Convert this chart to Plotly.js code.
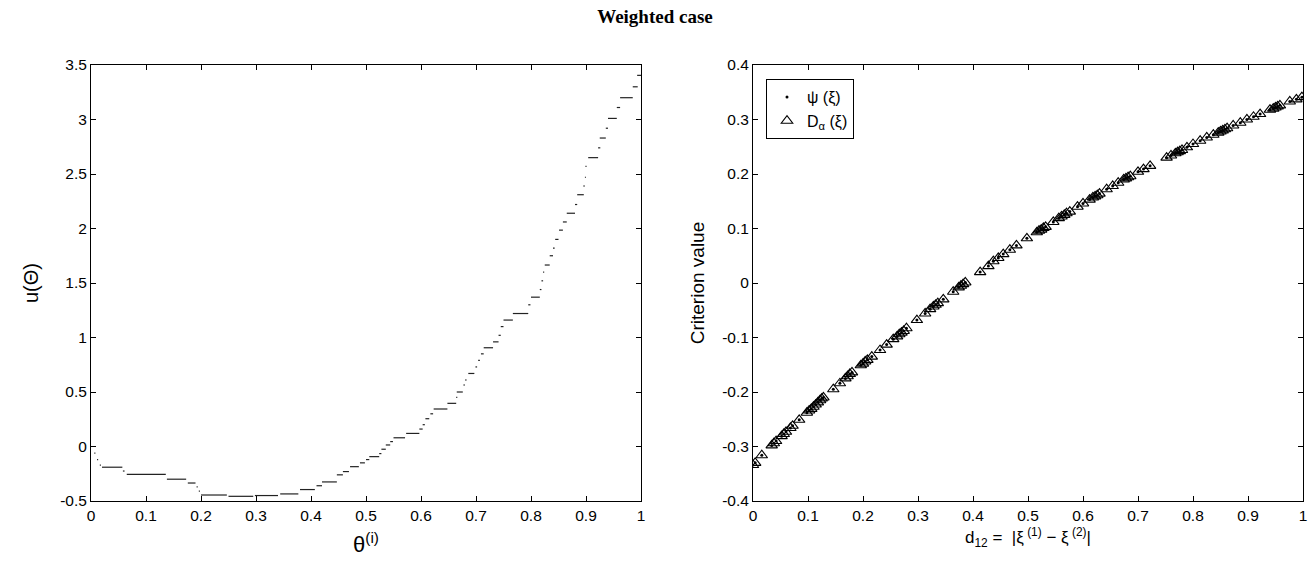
<!DOCTYPE html>
<html>
<head>
<meta charset="utf-8">
<script src="https://cdn.plot.ly/plotly-3.0.1.min.js"></script>
<style>html,body{margin:0;padding:0;background:#fff;}#chart{width:1309px;height:569px;}</style>
</head>
<body>
<div id="chart"></div>
<script>
// ---- Left panel: step function u(Theta) vs theta^(i) (segments start, end, level)
const stepStart = [0.000,0.006,0.011,0.016,0.020,0.058,0.065,0.138,0.176,0.192,0.196,0.200,0.250,0.298,0.344,0.380,0.410,0.420,0.447,0.458,0.471,0.489,0.500,0.506,0.524,0.528,0.536,0.544,0.550,0.573,0.597,0.603,0.608,0.617,0.623,0.648,0.664,0.665,0.677,0.680,0.686,0.699,0.704,0.709,0.714,0.731,0.741,0.745,0.750,0.767,0.795,0.800,0.816,0.819,0.822,0.825,0.834,0.840,0.844,0.851,0.858,0.865,0.880,0.884,0.895,0.898,0.899,0.904,0.922,0.925,0.936,0.940,0.956,0.962,0.985,0.993];
const stepEnd   = [0.002,0.008,0.013,0.018,0.057,0.061,0.136,0.173,0.190,0.194,0.198,0.247,0.295,0.340,0.377,0.407,0.420,0.447,0.458,0.469,0.487,0.498,0.506,0.524,0.528,0.536,0.544,0.549,0.571,0.597,0.603,0.607,0.615,0.622,0.648,0.664,0.666,0.676,0.680,0.683,0.697,0.702,0.707,0.714,0.731,0.741,0.745,0.750,0.767,0.795,0.799,0.816,0.819,0.822,0.824,0.834,0.840,0.843,0.850,0.858,0.865,0.880,0.884,0.896,0.898,0.900,0.901,0.922,0.926,0.936,0.940,0.956,0.962,0.985,0.994,1.000];
const stepLevel = [0.000,-0.060,-0.120,-0.170,-0.190,-0.225,-0.255,-0.300,-0.335,-0.370,-0.410,-0.445,-0.457,-0.450,-0.435,-0.395,-0.360,-0.325,-0.260,-0.230,-0.185,-0.150,-0.120,-0.093,-0.065,-0.025,0.014,0.045,0.080,0.120,0.160,0.200,0.255,0.300,0.344,0.396,0.450,0.500,0.564,0.610,0.670,0.730,0.790,0.850,0.906,0.960,1.020,1.100,1.160,1.220,1.300,1.370,1.440,1.520,1.600,1.665,1.750,1.820,1.900,1.985,2.060,2.140,2.220,2.310,2.390,2.470,2.570,2.650,2.740,2.830,2.920,3.010,3.110,3.200,3.300,3.405];

// ---- Right panel: criterion values vs d12
const d12 = [0.000,0.004,0.016,0.034,0.038,0.042,0.052,0.056,0.060,0.068,0.072,0.084,0.098,0.102,0.106,0.110,0.114,0.118,0.122,0.125,0.128,0.146,0.158,0.168,0.172,0.176,0.180,0.196,0.200,0.204,0.208,0.216,0.231,0.243,0.255,0.262,0.266,0.270,0.274,0.279,0.298,0.313,0.322,0.328,0.332,0.336,0.346,0.364,0.374,0.378,0.382,0.386,0.413,0.428,0.437,0.446,0.455,0.467,0.479,0.498,0.516,0.520,0.524,0.528,0.532,0.546,0.556,0.561,0.566,0.570,0.576,0.590,0.600,0.612,0.618,0.622,0.626,0.630,0.643,0.654,0.664,0.674,0.678,0.682,0.686,0.700,0.710,0.722,0.752,0.760,0.768,0.772,0.776,0.780,0.789,0.800,0.813,0.825,0.837,0.846,0.850,0.854,0.858,0.862,0.873,0.886,0.898,0.910,0.922,0.940,0.946,0.950,0.954,0.958,0.976,0.988,0.998];
const critPsi = [-0.334,-0.330,-0.316,-0.298,-0.294,-0.290,-0.281,-0.277,-0.273,-0.266,-0.262,-0.251,-0.238,-0.234,-0.231,-0.227,-0.223,-0.219,-0.215,-0.212,-0.210,-0.195,-0.184,-0.175,-0.171,-0.167,-0.164,-0.151,-0.148,-0.144,-0.141,-0.135,-0.123,-0.113,-0.103,-0.098,-0.094,-0.091,-0.088,-0.083,-0.068,-0.056,-0.048,-0.043,-0.040,-0.037,-0.030,-0.016,-0.008,-0.005,-0.002,0.001,0.020,0.031,0.040,0.046,0.053,0.061,0.069,0.082,0.093,0.096,0.098,0.101,0.103,0.112,0.119,0.122,0.125,0.128,0.131,0.140,0.146,0.153,0.157,0.159,0.161,0.164,0.172,0.178,0.184,0.190,0.192,0.194,0.196,0.204,0.209,0.215,0.230,0.234,0.238,0.240,0.242,0.244,0.249,0.255,0.261,0.267,0.272,0.276,0.278,0.280,0.282,0.284,0.289,0.294,0.300,0.305,0.310,0.318,0.320,0.322,0.324,0.326,0.333,0.337,0.341];
const critD = critPsi.slice();

// ---- Tick labels
const leftYTicks = [-0.5,0,0.5,1,1.5,2,2.5,3,3.5];
const leftYText = ["-0.5","0","0.5","1","1.5","2","2.5","3","3.5"];
const xTicks = [0,0.1,0.2,0.3,0.4,0.5,0.6,0.7,0.8,0.9,1];
const xText = ["0","0.1","0.2","0.3","0.4","0.5","0.6","0.7","0.8","0.9","1"];
const rightYTicks = [-0.4,-0.3,-0.2,-0.1,0,0.1,0.2,0.3,0.4];
const rightYText = ["-0.4","-0.3","-0.2","-0.1","0","0.1","0.2","0.3","0.4"];

// Build step line with gaps
const sx = [], sy = [];
for (let i = 0; i < stepLevel.length; i++) {
  sx.push(stepStart[i], stepEnd[i], null);
  sy.push(stepLevel[i], stepLevel[i], null);
}

const W = 1309, H = 569;
const font = 'Liberation Sans, Arial, sans-serif';
const axBase = {
  showline: true, linecolor: '#000', linewidth: 1, mirror: 'ticks',
  ticks: 'inside', ticklen: 5, tickcolor: '#000', tickwidth: 1,
  showgrid: false, zeroline: false,
  tickfont: {family: font, size: 15.5, color: '#000'},
  automargin: false, fixedrange: true
};

const traces = [
  {x: sx, y: sy, xaxis: 'x', yaxis: 'y', mode: 'lines', connectgaps: false,
   line: {color: '#222', width: 1.2}, showlegend: false, hoverinfo: 'skip'},
  {x: d12, y: critPsi, xaxis: 'x2', yaxis: 'y2', mode: 'markers', name: 'ψ (ξ)',
   marker: {symbol: 'circle', size: 3, color: '#000'}},
  {x: d12, y: critD, xaxis: 'x2', yaxis: 'y2', mode: 'markers', name: 'D<sub>α</sub> (ξ)',
   marker: {symbol: 'triangle-up-open', size: 10, color: '#000', line: {width: 1.1, color: '#000'}}}
];

const yDom = [(H - 501) / H, (H - 65) / H];
const layout = {
  width: W, height: H,
  margin: {l: 0, r: 0, t: 0, b: 0},
  paper_bgcolor: '#fff', plot_bgcolor: '#fff',
  title: {text: '<b>Weighted case</b>', x: 655 / W, xanchor: 'center', y: 1 - 16 / H, yanchor: 'middle',
          font: {family: 'Liberation Serif, DejaVu Serif, serif', size: 19, color: '#000'}},
  xaxis: Object.assign({}, axBase, {domain: [91 / W, 641 / W], range: [0, 1], tickvals: xTicks, ticktext: xText,
    anchor: 'y',
    title: {text: 'θ<sup>(i)</sup>', standoff: 14, font: {family: font, size: 22, color: '#000'}}}),
  yaxis: Object.assign({}, axBase, {domain: yDom, range: [-0.5, 3.5], tickvals: leftYTicks, ticktext: leftYText,
    anchor: 'x',
    title: {text: 'u(Θ)', standoff: 16, font: {family: font, size: 20, color: '#000'}}}),
  xaxis2: Object.assign({}, axBase, {domain: [753 / W, 1303 / W], range: [0, 1], tickvals: xTicks, ticktext: xText,
    anchor: 'y2',
    title: {text: 'd<sub>12</sub> =  |ξ<sup> (1)</sup> − ξ<sup> (2)</sup>|', standoff: 8, font: {family: font, size: 17, color: '#000'}}}),
  yaxis2: Object.assign({}, axBase, {domain: yDom, range: [-0.4, 0.4], tickvals: rightYTicks, ticktext: rightYText,
    anchor: 'x2',
    title: {text: 'Criterion value', standoff: 12, font: {family: font, size: 19, color: '#000'}}}),
  showlegend: true,
  legend: {x: 766 / W, y: 1 - 79 / H, xanchor: 'left', yanchor: 'top',
    bgcolor: '#fff', bordercolor: '#000', borderwidth: 1,
    font: {family: font, size: 16, color: '#000'}, itemwidth: 30, tracegroupgap: 0}
};

Plotly.newPlot('chart', traces, layout, {displayModeBar: false, staticPlot: true});
</script>
</body>
</html>
